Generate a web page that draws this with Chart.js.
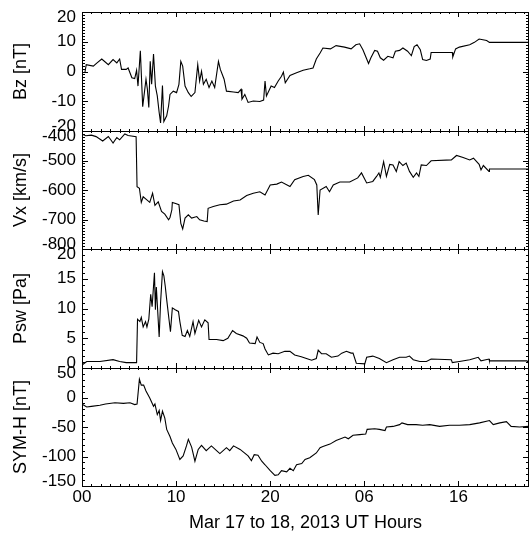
<!DOCTYPE html>
<html>
<head>
<meta charset="utf-8">
<script src="https://cdn.jsdelivr.net/npm/chart.js@4/dist/chart.umd.min.js"></script>
<style>
    body { margin: 0; background: #fff; }
    #wrap { position: relative; width: 530px; height: 534px; }
    canvas { position: absolute; left: 0; }
</style>
</head>
<body>
<div id="wrap">
    <canvas id="bz" width="530" height="143" style="top:0px"></canvas>
    <canvas id="vx" width="530" height="142" style="top:119px"></canvas>
    <canvas id="psw" width="530" height="143" style="top:237px"></canvas>
    <canvas id="symh" width="530" height="178" style="top:356px"></canvas>
</div>
<script>
// hours since Mar 17 00 UT
const xTickValues = [0, 10, 20, 30, 40]
const xTickLabels = ['00', '10', '20', '06', '16']

const bzHours = [0.3, 0.45, 1.2, 1.6, 2.1, 2.8, 3.3, 3.7, 4.0, 4.2, 4.7, 4.9, 5.3, 5.6, 5.8, 5.95, 6.2, 6.45, 6.8, 6.95,
    7.1, 7.25, 7.4, 7.6, 7.8, 8.0, 8.2, 8.35, 8.55, 8.7, 9.0, 9.2, 9.35, 9.7, 10.05, 10.3, 10.5, 10.7, 10.95, 11.3,
    11.6, 12.0, 12.3, 12.5, 12.7, 12.9, 13.2, 13.5, 13.8, 14.1, 14.5, 14.7, 15.1, 15.35, 16.1, 16.6, 16.9, 17.0, 17.3, 17.65,
    18.2, 18.9, 19.3, 19.45, 19.6, 20.1, 20.45, 20.85, 21.2, 21.4, 21.6, 22.1, 22.8, 23.5, 24.2, 24.55, 24.9, 25.3, 25.6, 26.4,
    27.0, 27.9, 28.6, 29.1, 29.5, 29.85, 30.2, 30.45, 30.7, 31.1, 31.4, 31.7, 32.05, 32.5, 33.05, 33.3, 33.75, 34.1, 34.6, 35.0,
    35.3, 35.6, 35.95, 36.2, 36.6, 37.0, 37.1, 39.35, 39.4, 39.7, 40.1, 41.2, 41.7, 42.2, 42.6, 43.0, 43.3, 47.5]
const bzValues = [-0.5, 2.3, 1.8, 2.9, 4.2, 2.3, 4.0, 2.9, 4.2, 0.7, 0.7, 1.2, -2.1, -2.4, 0.4, -4.9, 7.0, -11.8, -2.6, -6.0,
    -12.1, 3.4, -4.3, 5.9, -4.9, -8.2, -13.8, -17.3, -4.7, -16.8, -14.9, -11.6, -7.7, -6.6, -7.1, -4.3, 3.4, 1.8, -4.9, -7.1,
    -8.4, -7.1, 2.3, -3.2, 0.1, -4.3, -2.6, -5.4, -3.2, -5.4, 3.4, 0.7, -2.6, -6.6, -6.9, -7.1, -6.0, -9.3, -7.7, -10.4,
    -9.9, -10.1, -9.6, -3.2, -8.2, -4.9, -5.4, -3.2, -1.6, -0.2, -3.8, -1.3, -0.4, 0.4, 0.9, 1.2, 4.2, 6.2, 7.9, 7.6,
    8.7, 8.2, 7.6, 9.0, 9.3, 7.3, 4.6, 2.7, 4.6, 7.1, 6.8, 4.6, 3.8, 5.1, 4.6, 6.8, 7.1, 7.9, 6.8, 5.3,
    8.4, 9.0, 7.3, 4.0, 3.7, 4.2, 6.4, 6.4, 4.9, 7.6, 8.2, 9.0, 9.8, 10.9, 10.7, 10.4, 9.8, 9.8]

const vxHours = [0.1, 0.4, 1.0, 1.5, 2.2, 2.8, 3.0, 3.3, 3.7, 4.0, 4.55, 4.9, 5.75, 5.85, 6.1, 6.3, 6.5, 6.8, 7.2, 7.5,
    7.75, 8.1, 8.45, 8.8, 9.2, 9.35, 9.55, 9.6, 9.95, 10.3, 10.5, 10.7, 10.95, 11.3, 11.65, 12.2, 12.5, 12.95, 13.3, 13.4,
    13.95, 14.65, 15.35, 16.1, 16.8, 17.5, 18.2, 18.9, 19.45, 20.0, 20.7, 21.2, 22.1, 22.6, 23.5, 24.05, 24.7, 24.95, 25.1, 25.3,
    25.95, 26.3, 26.7, 27.4, 28.45, 29.3, 29.7, 30.25, 30.9, 31.3, 31.55, 31.7, 32.05, 32.35, 32.7, 33.05, 33.4, 33.7, 34.1, 34.45,
    34.8, 35.2, 35.55, 35.8, 36.05, 36.6, 37.1, 39.25, 39.8, 40.5, 41.2, 41.6, 42.2, 42.4, 42.65, 43.25, 43.3, 47.5]
const vxValues = [-412, -416, -414, -419, -434, -419, -427, -441, -422, -430, -410, -415, -419, -589, -594, -642, -623, -631, -642, -611,
    -652, -640, -673, -682, -701, -693, -667, -642, -646, -650, -713, -732, -695, -684, -695, -690, -701, -705, -707, -662,
    -656, -650, -648, -637, -634, -619, -611, -606, -617, -583, -580, -573, -588, -565, -554, -550, -565, -583, -685, -600,
    -588, -606, -583, -573, -573, -559, -542, -576, -571, -554, -542, -557, -504, -554, -513, -515, -537, -504, -517, -509,
    -537, -557, -542, -554, -515, -517, -501, -498, -483, -490, -498, -492, -513, -532, -517, -537, -529, -529]

const pswHours = [0.0, 0.5, 1.9, 3.3, 4.0, 4.7, 5.8, 5.9, 6.15, 6.3, 6.5, 6.75, 6.9, 7.1, 7.3, 7.45, 7.7, 7.8, 7.9, 8.2,
    8.35, 8.55, 8.7, 8.85, 9.0, 9.25, 9.4, 9.6, 9.9, 10.25, 10.4, 10.65, 10.95, 11.2, 11.45, 11.8, 12.0, 12.4, 12.7, 13.05,
    13.4, 13.5, 14.3, 15.0, 15.5, 16.0, 16.4, 17.1, 17.5, 17.8, 18.4, 18.6, 18.9, 19.25, 19.45, 19.8, 20.3, 20.85, 21.55, 22.1,
    22.6, 23.3, 23.85, 24.4, 24.9, 25.1, 25.45, 25.95, 26.5, 27.2, 27.6, 28.1, 28.6, 28.8, 29.15, 30.05, 30.25, 30.9, 31.6, 32.35,
    33.05, 33.75, 34.45, 34.8, 35.2, 35.9, 36.6, 37.1, 39.25, 39.35, 40.1, 41.2, 42.1, 42.4, 43.25, 43.3, 47.3, 47.5]
const pswValues = [0.5, 1.1, 1.1, 1.4, 1.1, 0.9, 0.9, 8.2, 7.8, 8.5, 6.9, 7.8, 6.9, 8.2, 12.4, 10.3, 16.0, 9.8, 13.6, 5.2,
    11.0, 16.2, 15.5, 13.7, 11.5, 8.1, 6.1, 10.1, 9.8, 9.5, 7.8, 5.5, 5.3, 6.3, 5.3, 7.8, 5.8, 8.0, 6.9, 8.1,
    7.6, 4.8, 4.8, 4.6, 5.0, 6.3, 5.8, 5.4, 5.0, 4.2, 4.1, 5.2, 4.3, 4.1, 3.2, 2.2, 2.5, 2.4, 2.8, 2.8,
    2.2, 1.9, 1.6, 1.3, 1.6, 3.0, 2.4, 2.4, 1.8, 2.0, 2.5, 2.8, 2.5, 2.5, 0.8, 0.7, 1.8, 2.0, 1.6, 0.9,
    1.4, 1.8, 1.8, 2.0, 1.4, 1.1, 1.1, 1.5, 1.4, 0.9, 1.1, 1.4, 1.8, 1.2, 1.5, 1.2, 1.2, 0.7]

const symhHours = [0.07, 0.5, 1.0, 1.9, 2.5, 3.5, 4.4, 5.1, 5.6, 5.85, 6.1, 6.3, 6.55, 6.8, 7.2, 7.6, 7.75, 8.0, 8.2, 8.35,
    8.55, 8.8, 9.0, 9.35, 9.6, 9.98, 10.4, 10.75, 11.1, 11.3, 11.65, 12.0, 12.35, 12.7, 13.2, 13.75, 14.3, 14.65, 15.35, 15.7,
    16.1, 16.8, 17.65, 18.0, 18.3, 18.7, 19.1, 19.45, 20.0, 20.5, 20.85, 21.2, 21.75, 22.1, 22.45, 22.8, 23.35, 23.7, 24.2, 24.9,
    25.3, 25.6, 26.35, 27.0, 27.95, 28.3, 28.8, 29.5, 30.15, 30.3, 31.1, 31.6, 32.2, 32.35, 33.05, 33.75, 34.0, 34.6, 35.5, 36.2,
    36.95, 38.0, 39.05, 40.1, 41.2, 42.25, 43.3, 43.7, 44.4, 45.1, 45.6, 46.5, 47.45]
const symhValues = [-12, -16, -15, -13, -11, -9, -10, -9, -12, -11, 31, 21, 21, 11, -1, -15, -11, -29, -22, -39,
    -23, -35, -54, -66, -77, -88, -105, -99, -82, -71, -84, -108, -88, -81, -90, -82, -90, -95, -85, -90,
    -82, -88, -99, -107, -97, -98, -108, -114, -124, -132, -131, -124, -126, -120, -124, -114, -112, -105, -102, -94,
    -85, -83, -79, -73, -67, -70, -64, -63, -62, -54, -53, -54, -56, -50, -49, -46, -43, -46, -46, -47,
    -46, -49, -47, -47, -46, -43, -39, -46, -43, -41, -49, -50, -49]

const font = "'Liberation Sans', Arial, Helvetica, sans-serif"

// IDL style box with inward ticks on all four sides
const frameTicks = {
    id: 'frameTicks',
    beforeDraw(chart) {
        // pull the end labels inside the box so neighbouring panels don't collide
        const y = chart.scales.y
        const items = y.getLabelItems(chart.chartArea)
        if (!items.length || items[0]._moved) return
        items[0].options.translation[1] -= 5
        items[items.length - 1].options.translation[1] += 5
        items[0]._moved = true
    },
    afterDraw(chart, args, opts) {
        const {ctx, chartArea: a, scales: {x, y}} = chart
        ctx.save()
        ctx.strokeStyle = '#000'
        ctx.lineWidth = 1
        ctx.beginPath()
        ctx.rect(a.left + 0.5, a.top + 0.5, a.right - a.left - 1, a.bottom - a.top)
        for (let v = y.min; v <= y.max + 1e-6; v += opts.minor) {
            const q = v / opts.step
            const len = Math.abs(q - Math.round(q)) < 1e-6 ? 6 : 3
            const py = Math.round(y.getPixelForValue(v)) + 0.5
            ctx.moveTo(a.left, py); ctx.lineTo(a.left + len, py)
            ctx.moveTo(a.right, py); ctx.lineTo(a.right - len, py)
        }
        for (let h = 0; h <= x.max; h++) {
            const len = xTickValues.includes(h) ? 5 : 2
            const px = Math.round(x.getPixelForValue(h)) + 0.5
            ctx.moveTo(px, a.top); ctx.lineTo(px, a.top + len)
            ctx.moveTo(px, a.bottom); ctx.lineTo(px, a.bottom - len)
        }
        ctx.stroke()
        ctx.restore()
    }
}

function makePanel(id, title, hours, values, min, max, step, minor, last) {
    const ctx = document.getElementById(id).getContext('2d')
    return new Chart(ctx, {
        type: 'line',
        data: {
            datasets: [{
                data: hours.map((h, i) => ({x: h, y: values[i]})),
                borderColor: '#000',
                borderWidth: 1.1,
                pointRadius: 0,
                tension: 0
            }]
        },
        options: {
            responsive: false,
            animation: false,
            layout: {padding: {top: 12, bottom: last ? 0 : 12, left: 0, right: 1}},
            plugins: {
                legend: {display: false},
                tooltip: {enabled: false},
                frameTicks: {step: step, minor: minor}
            },
            scales: {
                x: {
                    type: 'linear',
                    min: 0,
                    max: 47.5,
                    display: last,
                    grid: {display: false, drawTicks: false},
                    border: {display: false},
                    afterBuildTicks: s => { s.ticks = xTickValues.map(v => ({value: v})) },
                    afterFit: s => {
                        s.height = last ? 48 : 0
                        s.paddingLeft = 0
                        s.paddingRight = 0
                    },
                    ticks: {
                        color: '#000',
                        padding: 1,
                        maxRotation: 0,
                        autoSkip: false,
                        font: {family: font, size: 17},
                        callback: v => xTickLabels[xTickValues.indexOf(v)]
                    },
                    title: {
                        display: true,
                        text: 'Mar 17 to 18, 2013 UT Hours',
                        color: '#000',
                        font: {family: font, size: 18},
                        padding: {top: 0, bottom: 0}
                    }
                },
                y: {
                    min: min,
                    max: max,
                    grid: {display: false, drawTicks: false},
                    border: {display: false},
                    afterFit: s => { s.width = 82; s.paddingTop = 0; s.paddingBottom = 0 },
                    ticks: {
                        stepSize: step,
                        autoSkip: false,
                        color: '#000',
                        padding: 6,
                        font: {family: font, size: 17}
                    },
                    title: {
                        display: true,
                        text: title,
                        color: '#000',
                        font: {family: font, size: 18},
                        padding: {top: 10, bottom: 0}
                    }
                }
            }
        },
        plugins: [frameTicks]
    })
}

makePanel('bz', 'Bz [nT]', bzHours, bzValues, -20, 20, 10, 1, false)
makePanel('vx', 'Vx [km/s]', vxHours, vxValues, -800, -400, 100, 10, false)
makePanel('psw', 'Psw [Pa]', pswHours, pswValues, 0, 20, 5, 1, false)
makePanel('symh', 'SYM-H [nT]', symhHours, symhValues, -150, 50, 50, 10, true)
</script>
</body>
</html>
